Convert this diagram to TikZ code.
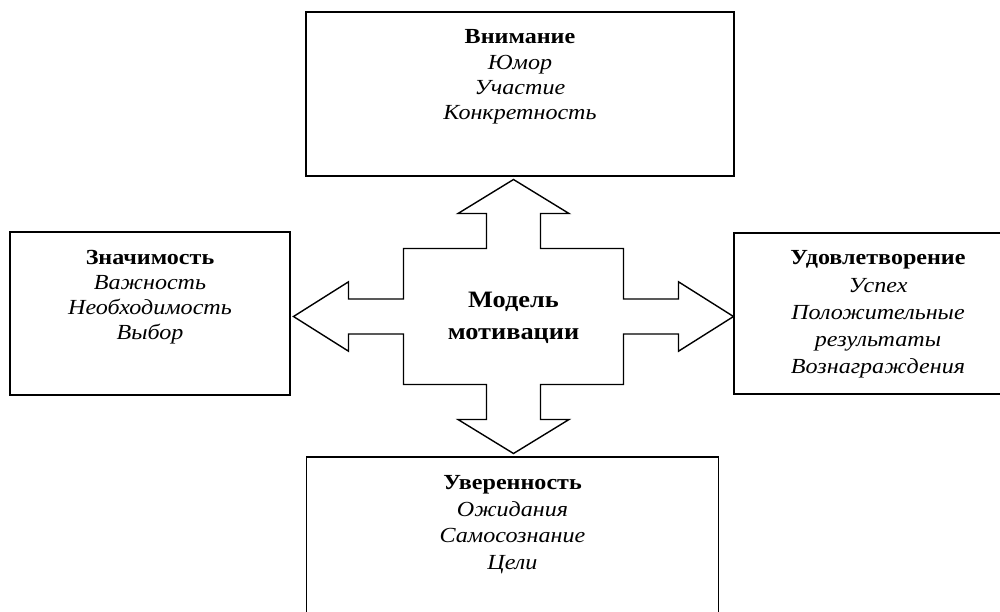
\documentclass[tikz,border=0pt]{standalone}
\usepackage{fontspec}
\setmainfont[FakeStretch=1.12]{Liberation Serif}
\usetikzlibrary{positioning}

\tikzset{
    box/.style={draw, line width=1.6pt, inner sep=0pt},
    boxtext/.style={align=center, inner sep=0pt, anchor=north,
        font=\fontsize{21.5}{#1}\selectfont\itshape},
    boxtext/.default=26,
    bigarrow/.style={draw, line width=1.4pt, line join=miter}
}
\newcommand{\boxtitle}[1]{\textup{\textbf{#1}}}

\begin{document}
\begin{tikzpicture}[x=1pt, y=-1pt]
        \useasboundingbox (0,0) rectangle (1000,611);
        \fill[white] (0,0) rectangle (1000,611);
        \clip (0,0) rectangle (1000,611);

        % Boxes (the right and bottom ones run past the page edge)
        \node[box, minimum width=428pt, minimum height=164pt] (vnimanie) at (520,94) {};
        \node[box, minimum width=280pt, minimum height=163pt] (znachimost) at (150,313.5) {};
        \node[box, minimum width=288pt, minimum height=161pt] (udovl) at (878,313.5) {};
        \node[box, minimum width=412pt, minimum height=182pt] (uver) at (512.5,548) {};

        % Texts in the boxes
        \node[boxtext=25.3, below=18.5pt of vnimanie.north] (vnimanie-t)
            {\boxtitle{Внимание}\\Юмор\\Участие\\Конкретность};
        \node[boxtext=25, below=18.5pt of znachimost.north] (znachimost-t)
            {\boxtitle{Значимость}\\Важность\\Необходимость\\Выбор};
        \node[boxtext=27.2, below=18.5pt of udovl.north] (udovl-t)
            {\boxtitle{Удовлетворение}\\Успех\\Положительные\\результаты\\Вознаграждения};
        \node[boxtext=26.7, below=19pt of uver.north] (uver-t)
            {\boxtitle{Уверенность}\\Ожидания\\Самосознание\\Цели};

        % Four-way arrow with the model in the middle
        \node[align=center, inner sep=0pt, font=\fontsize{23.5}{32}\selectfont\bfseries] (model)
            at (513.5,318) {Модель\\мотивации};
        \begin{scope}[shift={(513.5,316.5)}]
            \draw[bigarrow] (0,-137) -- (55.5,-103) -- (27,-103) -- (27,-68) -- (110,-68)
                -- (110,-17.5) -- (165,-17.5) -- (165,-34.7) -- (220,0) -- (165,34.7)
                -- (165,17.5) -- (110,17.5) -- (110,68) -- (27,68) -- (27,103)
                -- (55.5,103) -- (0,137) -- (-55.5,103) -- (-27,103) -- (-27,68)
                -- (-110,68) -- (-110,17.5) -- (-165,17.5) -- (-165,34.7) -- (-220,0)
                -- (-165,-34.7) -- (-165,-17.5) -- (-110,-17.5) -- (-110,-68)
                -- (-27,-68) -- (-27,-103) -- (-55.5,-103) -- cycle;
        \end{scope}
    \end{tikzpicture}
\end{document}
